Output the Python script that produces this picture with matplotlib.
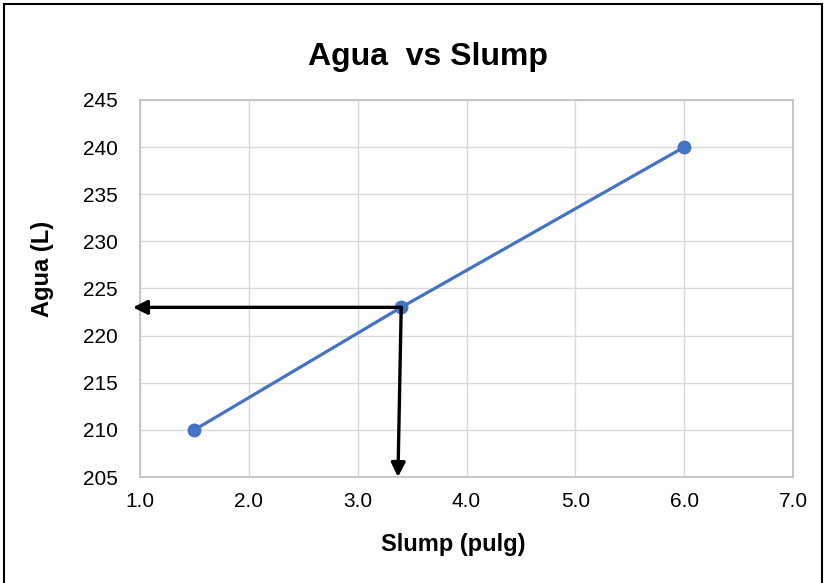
import matplotlib.pyplot as plt
from matplotlib.patches import Rectangle

# Datos
slump = [1.5, 3.4, 6.0]
agua = [210, 223, 240]

# Lectura marcada con flechas
slump_lectura = 3.4
agua_lectura = 223
slump_pie_flecha = 3.37

xticks = [1.0, 2.0, 3.0, 4.0, 5.0, 6.0, 7.0]
yticks = [205, 210, 215, 220, 225, 230, 235, 240, 245]

plt.rcParams['font.family'] = ['Liberation Sans', 'DejaVu Sans']

fig = plt.figure(figsize=(8.27, 5.83), dpi=100)
ax = fig.add_axes([0.1693, 0.1818, 0.7896, 0.6467])

ax.plot(slump, agua, color='#4472C4', linewidth=2.3, marker='o', markersize=9, zorder=3)

ax.set_xlim(xticks[0], xticks[-1])
ax.set_ylim(yticks[0], yticks[-1])
ax.set_xticks(xticks)
ax.set_xticklabels([f'{v:.1f}' for v in xticks])
ax.set_yticks(yticks)
ax.tick_params(length=0, labelsize=15)
ax.tick_params(axis='y', pad=16)
ax.tick_params(axis='x', pad=11)
ax.grid(True, color='#D9D9D9', linewidth=1)
ax.set_axisbelow(True)
for s in ax.spines.values():
    s.set_color('#BFBFBF')
    s.set_linewidth(1.2)

# Titulo y etiquetas de ejes
fig.text(428 / 827, 1 - 57 / 583, 'Agua  vs Slump', fontsize=23, fontweight='bold',
         ha='center', va='center')
fig.text(453 / 827, 1 - 545 / 583, 'Slump (pulg)', fontsize=17, fontweight='bold',
         ha='center', va='center')
fig.text(43 / 827, 1 - 269 / 583, 'Agua (L)', fontsize=17, fontweight='bold',
         ha='center', va='center', rotation=90)

# Flechas de lectura
flecha = dict(arrowstyle='-|>', color='black', lw=2.4, mutation_scale=21, shrinkA=0, shrinkB=0)
ax.annotate('', xy=(xticks[0] - 0.065, agua_lectura), xytext=(slump_lectura, agua_lectura),
            arrowprops=flecha, annotation_clip=False, zorder=4)
ax.annotate('', xy=(slump_pie_flecha, yticks[0]), xytext=(slump_lectura, agua_lectura),
            arrowprops=flecha, annotation_clip=False, zorder=4)

# Marco exterior
fig.patches.append(Rectangle((4 / 827, -0.02), 818 / 827, 1.013, transform=fig.transFigure,
                             fill=False, edgecolor='black', linewidth=1.5))

fig.savefig('out.png', dpi=100)
